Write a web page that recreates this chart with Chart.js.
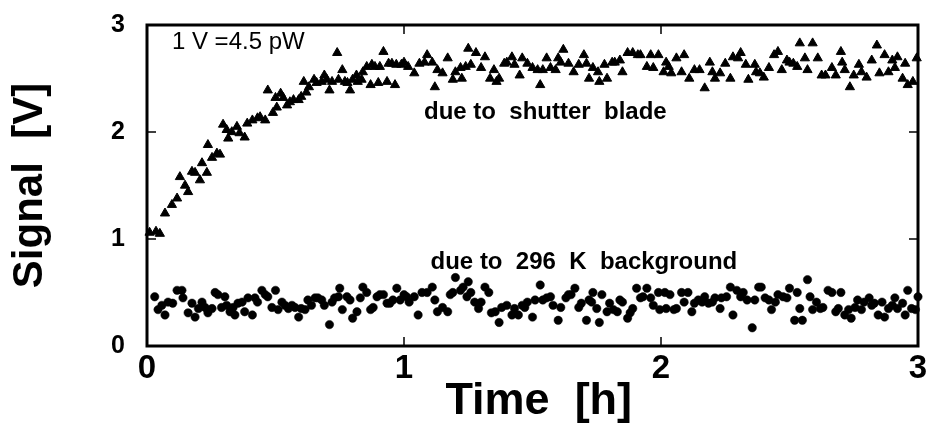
<!DOCTYPE html>
<html>
<head>
<meta charset="utf-8">
<script src="https://cdn.jsdelivr.net/npm/chart.js@4.4.1/dist/chart.umd.min.js"></script>
<style>
  body { margin: 0; background: #fff; }
  #chart { display: block; }
</style>
</head>
<body>
<canvas id="chart" width="930" height="424"></canvas>
<script>
// triangles: signal caused by the shutter blade
const shutterTime = [
  0.01,0.035,0.05,0.07,0.097,0.117,0.128,0.148,0.16,0.175,
  0.187,0.206,0.214,0.233,0.237,0.253,0.272,0.284,0.296,0.31,
  0.316,0.33,0.35,0.36,0.38,0.39,0.41,0.43,0.44,0.46,
  0.47,0.49,0.50,0.505,0.52,0.53,0.545,0.556,0.57,0.59,
  0.60,0.61,0.62,0.63,0.65,0.66,0.68,0.69,0.70,0.71,
  0.72,0.74,0.745,0.76,0.77,0.78,0.79,0.80,0.815,0.82,
  0.835,0.84,0.855,0.87,0.875,0.887,0.90,0.906,0.92,0.934,
  0.94,0.953,0.965,0.97,0.99,1.0,1.016,1.04,1.06,1.08,
  1.09,1.11,1.12,1.13,1.15,1.17,1.19,1.20,1.22,1.225,
  1.24,1.25,1.26,1.28,1.30,1.315,1.335,1.35,1.36,1.37,
  1.39,1.40,1.42,1.43,1.45,1.46,1.48,1.50,1.52,1.53,
  1.54,1.555,1.57,1.59,1.60,1.61,1.62,1.64,1.66,1.68,
  1.70,1.71,1.72,1.735,1.755,1.76,1.78,1.79,1.81,1.82,
  1.84,1.85,1.87,1.89,1.91,1.92,1.945,1.96,1.97,1.99,
  2.01,2.02,2.03,2.04,2.06,2.08,2.09,2.11,2.13,2.15,
  2.17,2.19,2.20,2.21,2.23,2.25,2.27,2.28,2.30,2.31,
  2.33,2.34,2.365,2.37,2.385,2.40,2.42,2.44,2.455,2.47,
  2.49,2.50,2.515,2.53,2.54,2.56,2.57,2.59,2.61,2.625,
  2.64,2.665,2.68,2.70,2.705,2.715,2.735,2.75,2.77,2.78,
  2.80,2.82,2.84,2.85,2.87,2.885,2.90,2.91,2.92,2.94,
  2.95,2.96,2.98,2.995
];
const shutterSignal = [
  1.06,1.07,1.05,1.24,1.32,1.38,1.58,1.50,1.44,1.63,
  1.62,1.55,1.71,1.62,1.88,1.76,1.80,1.79,2.07,2.02,
  1.94,2.00,2.05,1.99,1.95,2.08,2.11,2.13,2.14,2.11,
  2.39,2.18,2.32,2.23,2.36,2.32,2.25,2.28,2.30,2.30,
  2.33,2.47,2.37,2.42,2.49,2.46,2.47,2.53,2.49,2.39,
  2.47,2.74,2.49,2.58,2.47,2.46,2.39,2.49,2.53,2.47,
  2.49,2.56,2.61,2.44,2.63,2.61,2.46,2.61,2.75,2.47,
  2.64,2.64,2.44,2.63,2.63,2.65,2.61,2.55,2.64,2.65,
  2.72,2.65,2.42,2.58,2.55,2.69,2.49,2.56,2.60,2.50,
  2.61,2.78,2.63,2.74,2.60,2.70,2.50,2.58,2.47,2.50,
  2.64,2.65,2.70,2.63,2.53,2.69,2.64,2.60,2.58,2.44,
  2.58,2.69,2.60,2.58,2.69,2.65,2.77,2.64,2.56,2.63,
  2.72,2.64,2.50,2.60,2.56,2.47,2.63,2.50,2.65,2.65,
  2.67,2.56,2.74,2.74,2.72,2.72,2.61,2.72,2.60,2.72,
  2.56,2.65,2.61,2.55,2.69,2.56,2.72,2.50,2.58,2.58,
  2.41,2.65,2.56,2.50,2.55,2.64,2.50,2.70,2.69,2.74,
  2.63,2.49,2.63,2.56,2.55,2.51,2.60,2.72,2.75,2.58,
  2.67,2.65,2.64,2.61,2.83,2.69,2.58,2.83,2.69,2.53,
  2.53,2.60,2.53,2.75,2.65,2.58,2.42,2.53,2.63,2.56,
  2.51,2.67,2.81,2.55,2.72,2.56,2.67,2.60,2.70,2.50,
  2.64,2.44,2.47,2.69
];

// circles: 296 K background
const bgTime = [
  0.03,0.043,0.058,0.07,0.082,0.10,0.117,0.136,0.14,0.16,
  0.175,0.187,0.20,0.214,0.226,0.237,0.253,0.265,0.276,0.29,
  0.303,0.31,0.323,0.335,0.342,0.354,0.37,0.38,0.393,0.41,
  0.42,0.43,0.447,0.46,0.47,0.486,0.50,0.51,0.525,0.537,
  0.55,0.564,0.576,0.59,0.60,0.615,0.626,0.64,0.654,0.665,
  0.68,0.69,0.71,0.72,0.73,0.745,0.75,0.76,0.778,0.79,
  0.80,0.817,0.83,0.84,0.855,0.87,0.88,0.895,0.906,0.92,
  0.934,0.945,0.957,0.972,0.985,1.00,1.01,1.02,1.04,1.055,
  1.07,1.09,1.11,1.12,1.13,1.15,1.17,1.18,1.19,1.20,
  1.22,1.23,1.245,1.25,1.26,1.275,1.29,1.30,1.315,1.33,
  1.34,1.355,1.37,1.38,1.40,1.42,1.43,1.445,1.46,1.47,
  1.48,1.50,1.51,1.53,1.54,1.555,1.57,1.58,1.60,1.61,
  1.63,1.64,1.65,1.665,1.68,1.69,1.71,1.72,1.73,1.735,
  1.75,1.76,1.77,1.79,1.80,1.815,1.83,1.84,1.85,1.87,
  1.88,1.89,1.905,1.92,1.93,1.945,1.96,1.97,1.99,1.995,
  2.015,2.02,2.035,2.05,2.06,2.08,2.09,2.105,2.12,2.13,
  2.145,2.16,2.17,2.185,2.20,2.21,2.23,2.235,2.255,2.27,
  2.28,2.295,2.31,2.32,2.335,2.355,2.365,2.38,2.39,2.405,
  2.42,2.43,2.445,2.455,2.475,2.49,2.50,2.52,2.53,2.54,
  2.55,2.57,2.58,2.59,2.605,2.62,2.63,2.65,2.665,2.68,
  2.69,2.70,2.715,2.73,2.74,2.755,2.765,2.78,2.79,2.81,
  2.82,2.83,2.845,2.86,2.87,2.885,2.90,2.91,2.92,2.94,
  2.95,2.96,2.975,2.99,3.00
];
const bgSignal = [
  0.46,0.34,0.38,0.29,0.41,0.40,0.52,0.52,0.45,0.31,
  0.40,0.27,0.35,0.41,0.36,0.31,0.35,0.50,0.48,0.36,
  0.46,0.38,0.32,0.36,0.29,0.40,0.41,0.32,0.45,0.29,
  0.45,0.41,0.52,0.48,0.46,0.36,0.52,0.34,0.41,0.38,
  0.35,0.38,0.36,0.27,0.35,0.34,0.43,0.38,0.45,0.45,
  0.43,0.38,0.20,0.41,0.45,0.46,0.54,0.34,0.46,0.43,
  0.26,0.32,0.45,0.55,0.50,0.34,0.36,0.46,0.48,0.48,
  0.40,0.40,0.43,0.54,0.43,0.48,0.46,0.41,0.46,0.29,
  0.50,0.50,0.55,0.43,0.32,0.36,0.32,0.48,0.50,0.64,
  0.52,0.55,0.46,0.60,0.50,0.41,0.35,0.41,0.55,0.50,
  0.31,0.32,0.22,0.36,0.38,0.29,0.35,0.29,0.38,0.36,
  0.41,0.27,0.43,0.57,0.43,0.45,0.46,0.38,0.24,0.36,
  0.45,0.48,0.48,0.54,0.36,0.40,0.24,0.43,0.41,0.50,
  0.35,0.22,0.48,0.32,0.40,0.34,0.32,0.43,0.41,0.26,
  0.31,0.35,0.54,0.45,0.46,0.54,0.45,0.38,0.50,0.34,
  0.50,0.35,0.48,0.34,0.35,0.50,0.41,0.50,0.32,0.40,
  0.43,0.41,0.46,0.40,0.41,0.45,0.35,0.45,0.46,0.55,
  0.29,0.52,0.46,0.50,0.43,0.17,0.43,0.55,0.55,0.45,
  0.43,0.34,0.41,0.48,0.46,0.45,0.54,0.24,0.50,0.35,
  0.24,0.62,0.46,0.34,0.41,0.35,0.36,0.52,0.50,0.32,
  0.35,0.50,0.29,0.34,0.26,0.36,0.43,0.34,0.41,0.45,
  0.38,0.40,0.29,0.41,0.27,0.35,0.38,0.45,0.35,0.40,
  0.29,0.52,0.35,0.34,0.46
];

const xTicks = [0, 1, 2, 3];
const yTicks = [0, 1, 2, 3];

// text labels inside the plot, placed in data units
const notes = [
  { text: "1 V =4.5 pW", x: 0.097, y: 2.84, bold: false, size: 24, align: "left" },
  { text: "due to  shutter  blade", x: 1.55, y: 2.18, bold: true, size: 24, align: "center" },
  { text: "due to  296  K  background", x: 1.70, y: 0.785, bold: true, size: 24, align: "center" },
];

const FONT = "'Liberation Sans', Arial, Helvetica, sans-serif";

const toPoints = (xs, ys) => xs.map((x, i) => ({ x: x, y: ys[i] }));

const framePlugin = {
  id: "frame",
  afterDatasetsDraw(chart) {
    const { ctx, chartArea: a, scales } = chart;
    ctx.save();
    ctx.strokeStyle = "#000";
    ctx.lineWidth = 1.5;
    ctx.beginPath();
    xTicks.forEach((t) => {
      const px = scales.x.getPixelForValue(t);
      ctx.moveTo(px, a.bottom); ctx.lineTo(px, a.bottom - 9);
      ctx.moveTo(px, a.top); ctx.lineTo(px, a.top + 9);
    });
    yTicks.forEach((t) => {
      const py = scales.y.getPixelForValue(t);
      ctx.moveTo(a.left, py); ctx.lineTo(a.left + 9, py);
      ctx.moveTo(a.right, py); ctx.lineTo(a.right - 9, py);
    });
    ctx.stroke();
    ctx.lineWidth = 3;
    ctx.strokeRect(a.left, a.top, a.right - a.left, a.bottom - a.top);

    ctx.fillStyle = "#000";
    ctx.textBaseline = "middle";
    notes.forEach((n) => {
      ctx.font = (n.bold ? "bold " : "") + n.size + "px " + FONT;
      ctx.textAlign = n.align;
      ctx.fillText(n.text, scales.x.getPixelForValue(n.x), scales.y.getPixelForValue(n.y));
    });
    ctx.restore();
  },
};

new Chart(document.getElementById("chart"), {
  type: "scatter",
  data: {
    datasets: [
      {
        label: "due to shutter blade",
        data: toPoints(shutterTime, shutterSignal),
        pointStyle: "triangle",
        pointRadius: 5.3,
        borderWidth: 1,
        backgroundColor: "#000",
        borderColor: "#000",
        clip: false,
      },
      {
        label: "due to 296 K background",
        data: toPoints(bgTime, bgSignal),
        pointStyle: "circle",
        pointRadius: 4.2,
        borderWidth: 0.5,
        backgroundColor: "#000",
        borderColor: "#000",
        clip: false,
      },
    ],
  },
  options: {
    responsive: false,
    animation: false,
    layout: { padding: { top: 25, right: 12, left: 0, bottom: 0 } },
    plugins: {
      legend: { display: false },
      tooltip: { enabled: false },
    },
    scales: {
      x: {
        type: "linear",
        min: 0,
        max: 3,
        afterBuildTicks: (s) => { s.ticks = xTicks.map((v) => ({ value: v })); },
        afterFit: (s) => { s.height = 78; },
        grid: { display: false },
        border: { display: false },
        ticks: {
          color: "#000",
          padding: -5,
          font: { family: FONT, size: 33, weight: "bold" },
        },
        title: {
          display: true,
          text: " Time  [h]",
          color: "#000",
          padding: 0,
          font: { family: FONT, size: 45, weight: "bold", lineHeight: 1 },
        },
      },
      y: {
        type: "linear",
        min: 0,
        max: 3,
        afterBuildTicks: (s) => { s.ticks = yTicks.map((v) => ({ value: v })); },
        afterFit: (s) => {
          s.width = 147;
          // tick padding would otherwise push the plot top down
          s.paddingTop = 10;
          s.paddingBottom = 10;
        },
        grid: { display: false },
        border: { display: false },
        ticks: {
          color: "#000",
          padding: 14,
          font: { family: FONT, size: 25, weight: "bold" },
        },
        title: {
          display: true,
          text: "Signal  [V]",
          color: "#000",
          padding: { top: 9, bottom: 0 },
          font: { family: FONT, size: 42, weight: "bold", lineHeight: 1 },
        },
      },
    },
  },
  plugins: [framePlugin],
});
</script>
</body>
</html>
